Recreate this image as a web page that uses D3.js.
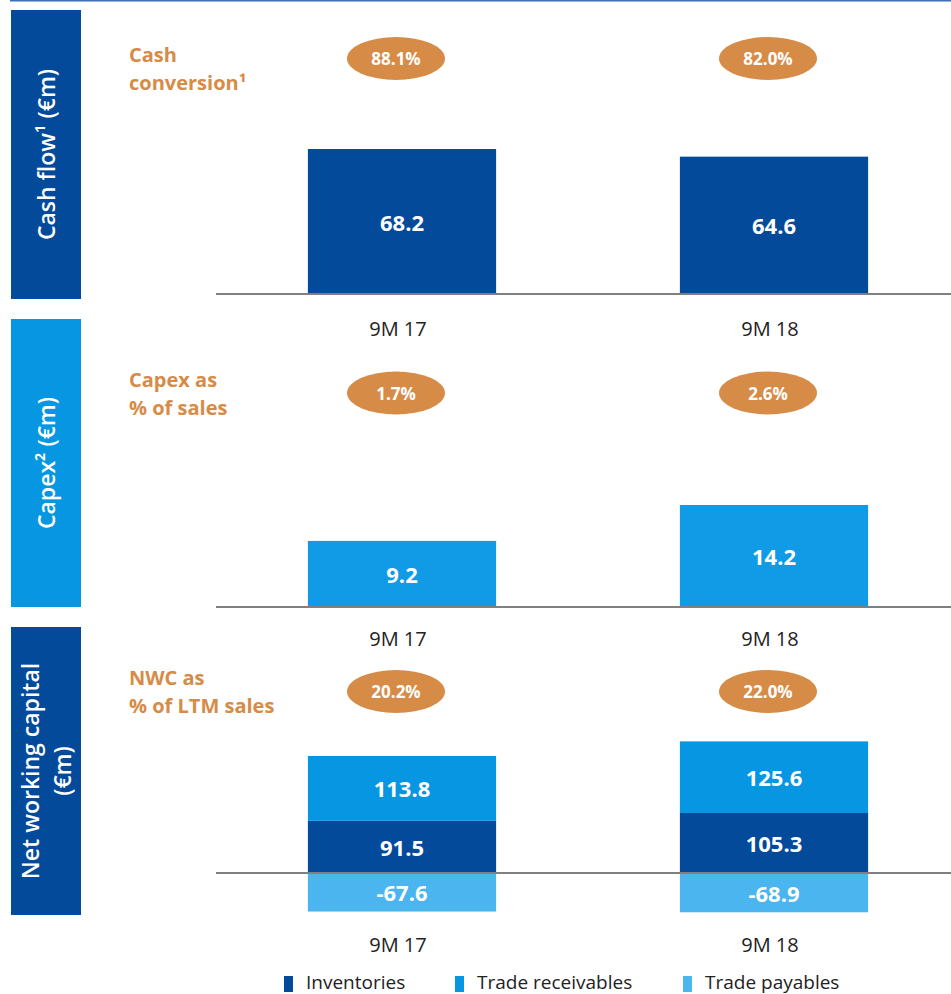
<!DOCTYPE html>
<html>
<head>
<meta charset="utf-8">
<script src="https://cdn.jsdelivr.net/npm/d3@7"></script>
<style>
  body { margin: 0; background: #ffffff; }
  svg text { font-family: "Open Sans", "Noto Sans", sans-serif; }
</style>
</head>
<body>
<div class="chart"></div>
<script>
	// data
	var periods = ["9M 17", "9M 18"];
	var cashFlow = [68.2, 64.6];
	var cashConversion = ["88.1%", "82.0%"];
	var capex = [9.2, 14.2];
	var capexShare = ["1.7%", "2.6%"];
	var inventories = [91.5, 105.3];
	var tradeReceivables = [113.8, 125.6];
	var tradePayables = [-67.6, -68.9];
	var nwcShare = ["20.2%", "22.0%"];
	var legendLabels = ["Inventories", "Trade receivables", "Trade payables"];

	// colours
	var darkBlue = "#034a9b",
		midBlue = "#0796e2",
		lightBlue = "#4ab5ee",
		orange = "#d68b47",
		axisGrey = "#808080";

	var width = 951, height = 994;

	var svg = d3.select(".chart")
		.append("svg")
			.attr("width", width)
			.attr("height", height);

	// top rule
	svg.append("line")
		.attr("x1", 10).attr("x2", width)
		.attr("y1", 0.75).attr("y2", 0.75)
		.attr("stroke", "#3a70b6")
		.attr("stroke-width", 1.5);

	// shared x scale
	var x = d3.scaleBand()
		.domain(periods)
		.range([216, 960])
		.paddingInner(0.494)
		.paddingOuter(0.247);

	// panel definitions (layout only)
	var panels = [
		{ top: 10, bottom: 299, side: darkBlue, title: ["Cash flow¹ (€m)"], note: ["Cash", "conversion¹"],
		  noteY: 62, ovalY: 58.5, shares: cashConversion, base: 294, labelY: 336,
		  y: d3.scaleLinear().domain([0, d3.max(cashFlow)]).range([294, 149]) },
		{ top: 319, bottom: 607, side: midBlue, title: ["Capex² (€m)"], note: ["Capex as", "% of sales"],
		  noteY: 387, ovalY: 393, shares: capexShare, base: 607, labelY: 646,
		  y: d3.scaleLinear().domain([0, d3.max(capex)]).range([607, 505]) },
		{ top: 627, bottom: 915, side: darkBlue, title: ["Net working capital", "(€m)"], note: ["NWC as", "% of LTM sales"],
		  noteY: 685, ovalY: 691.5, shares: nwcShare, base: 873, labelY: 952,
		  y: d3.scaleLinear().domain([0, 100]).range([873, 816]) }
	];

	panels.forEach(function(p) {
		// side block
		svg.append("rect")
			.attr("x", 11).attr("y", p.top)
			.attr("width", 70).attr("height", p.bottom - p.top)
			.attr("fill", p.side);

		var cy = (p.top + p.bottom) / 2;
		var lineGap = 32;
		p.title.forEach(function(t, i) {
			var cx = 46 + (i - (p.title.length - 1) / 2) * lineGap;
			svg.append("text")
				.attr("transform", "translate(" + cx + "," + cy + ") rotate(-90)")
				.attr("text-anchor", "middle")
				.attr("dominant-baseline", "central")
				.attr("fill", "#ffffff")
				.attr("font-size", "23px")
				.attr("font-weight", 600)
				.text(t);
		});

		// orange note
		p.note.forEach(function(t, i) {
			svg.append("text")
				.attr("x", 129)
				.attr("y", p.noteY + i * 27.5)
				.attr("fill", orange)
				.attr("font-size", "20px")
				.attr("font-weight", 700)
				.text(t);
		});

		// ovals
		var ov = svg.append("g").selectAll(".oval")
			.data(periods)
			.enter().append("g")
				.attr("class", "oval")
				.attr("transform", function(d) { return "translate(" + (x(d) + x.bandwidth() / 2 - 6) + "," + p.ovalY + ")"; });
		ov.append("ellipse")
			.attr("rx", 49).attr("ry", 21.5)
			.attr("fill", orange);
		ov.append("text")
			.attr("text-anchor", "middle")
			.attr("dominant-baseline", "central")
			.attr("fill", "#ffffff")
			.attr("font-size", "17px")
			.attr("font-weight", 700)
			.text(function(d, i) { return p.shares[i]; });

		// category labels
		svg.append("g").selectAll(".cat")
			.data(periods)
			.enter().append("text")
				.attr("x", function(d) { return x(d) + x.bandwidth() / 2 - 4; })
				.attr("y", p.labelY)
				.attr("text-anchor", "middle")
				.attr("fill", "#222222")
				.attr("font-size", "20px")
				.text(function(d) { return d; });
	});

	// bars: one segment per row
	function drawSegments(panel, values, colour) {
		var y = panel.y;
		var rows = periods.map(function(d, i) { return { period: d, v0: values[i][0], v1: values[i][1], label: values[i][2] }; });
		var g = svg.append("g");
		g.selectAll("rect")
			.data(rows)
			.enter().append("rect")
				.attr("x", function(d) { return x(d.period); })
				.attr("width", x.bandwidth())
				.attr("y", function(d) { return Math.min(y(d.v0), y(d.v1)); })
				.attr("height", function(d) { return Math.abs(y(d.v0) - y(d.v1)); })
				.attr("fill", colour);
		g.selectAll("text")
			.data(rows)
			.enter().append("text")
				.attr("x", function(d) { return x(d.period) + x.bandwidth() / 2; })
				.attr("y", function(d) { return (y(d.v0) + y(d.v1)) / 2; })
				.attr("text-anchor", "middle")
				.attr("dominant-baseline", "central")
				.attr("fill", "#ffffff")
				.attr("font-size", "22px")
				.attr("font-weight", 700)
				.text(function(d) { return d.label; });
	}

	drawSegments(panels[0], cashFlow.map(function(v) { return [0, v, v.toFixed(1)]; }), darkBlue);
	drawSegments(panels[1], capex.map(function(v) { return [0, v, v.toFixed(1)]; }), "#119be6");
	drawSegments(panels[2], inventories.map(function(v) { return [0, v, v.toFixed(1)]; }), darkBlue);
	drawSegments(panels[2], tradeReceivables.map(function(v, i) { return [inventories[i], inventories[i] + v, v.toFixed(1)]; }), midBlue);
	drawSegments(panels[2], tradePayables.map(function(v) { return [v, 0, v.toFixed(1)]; }), lightBlue);

	// baselines
	panels.forEach(function(p) {
		svg.append("line")
			.attr("x1", 216).attr("x2", width)
			.attr("y1", p.base).attr("y2", p.base)
			.attr("stroke", axisGrey)
			.attr("stroke-width", 2);
	});

	// legend
	var legendX = [284, 455, 683];
	var legendColours = [darkBlue, midBlue, lightBlue];
	var lg = svg.append("g").selectAll(".legend")
		.data(legendLabels)
		.enter().append("g")
			.attr("class", "legend")
			.attr("transform", function(d, i) { return "translate(" + legendX[i] + ",976)"; });
	lg.append("rect")
		.attr("width", 9).attr("height", 16)
		.attr("fill", function(d, i) { return legendColours[i]; });
	lg.append("text")
		.attr("x", 22).attr("y", 13)
		.attr("fill", "#222222")
		.attr("font-size", "19px")
		.text(function(d) { return d; });
</script>
</body>
</html>
